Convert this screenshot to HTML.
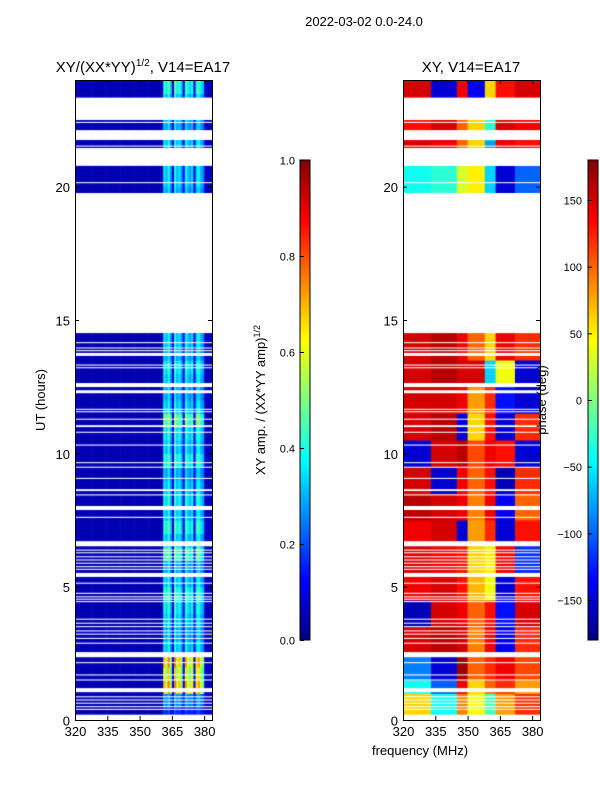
<!DOCTYPE html>
<html><head><meta charset="utf-8">
<style>
body{margin:0;background:#fff;}
#wrap{position:relative;width:600px;height:800px;overflow:hidden;background:#fff;font-family:"Liberation Sans",sans-serif;}
canvas{position:absolute;}
svg{position:absolute;left:0;top:0;}
</style></head><body>
<div id="wrap">
<canvas id="ampc" width="137" height="640" style="left:75px;top:80px"></canvas>
<canvas id="phc" width="137" height="640" style="left:403px;top:80px"></canvas>
<svg id="ov" width="600" height="800">
<defs>
<linearGradient id="jet" x1="0" y1="1" x2="0" y2="0">
<stop offset="0" stop-color="#000080"/><stop offset="0.125" stop-color="#0000ff"/>
<stop offset="0.375" stop-color="#00ffff"/><stop offset="0.625" stop-color="#ffff00"/>
<stop offset="0.875" stop-color="#ff0000"/><stop offset="1" stop-color="#800000"/>
</linearGradient>
</defs>
<text x="364" y="26" font-size="13" text-anchor="middle">2022-03-02 0.0-24.0</text>
<text x="143" y="72" font-size="15" text-anchor="middle">XY/(XX*YY)<tspan font-size="10" dy="-6">1/2</tspan><tspan dy="6">, V14=EA17</tspan></text>
<text x="471" y="72" font-size="15" text-anchor="middle">XY, V14=EA17</text>
<text transform="translate(45,400) rotate(-90)" font-size="13" text-anchor="middle">UT (hours)</text>
<text transform="translate(265,400) rotate(-90)" font-size="13" text-anchor="middle">XY amp. / (XX*YY amp)<tspan font-size="9" dy="-5">1/2</tspan></text>
<text transform="translate(546,400) rotate(-90)" font-size="13" text-anchor="middle">phase (deg)</text>
<text x="420" y="755" font-size="13" text-anchor="middle">frequency (MHz)</text>
<rect x="300" y="160" width="10" height="480" fill="url(#jet)" stroke="#000" stroke-width="1"/>
<rect x="588" y="160" width="10" height="480" fill="url(#jet)" stroke="#000" stroke-width="1"/>
<g id="axes"></g>
</svg>
</div>
<script>
// ---- data ----
const freqStart = 320;
const ampChannels = [ // 1 MHz channels 320..383
0.05,0.05,0.05,0.05,0.05,0.05,0.05,0.05,0.05,0.05,0.05,0.05,0.05,0.05,0.05,0.05,
0.05,0.05,0.05,0.05,0.05,0.05,0.05,0.05,0.05,0.05,0.05,0.05,0.05,0.05,0.05,0.05,
0.05,0.05,0.05,0.05,0.05,0.05,0.05,0.05,0.05,0.36,0.30,0.40,0.28,0.10,0.40,0.30,
0.36,0.28,0.12,0.38,0.32,0.28,0.34,0.12,0.34,0.38,0.30,0.26,0.07,0.06,0.06,0.06];
const ampBlockScale = [ // 0.5 h bins, 0..24 h
0.5,0.8,1.9,1.7,1.9,1.0,0.9,1.0,1.1,1.2,1.0,0.9,1.3,1.0,1.2,1.0,1.1,1.0,0.9,1.2,1.0,1.1,1.4,1.0,
0.9,1.0,1.1,0.9,1.0,1.0,1.0,1.0,1.0,1.0,1.0,1.0,1.0,1.0,1.0,0.9,1.0,1.0,0.9,1.0,0.9,1.0,1.0,1.2];
const phaseSegEdges = [320,333,345,350,358,363,372,384];
const phaseBlocks = [ // [startHour, endHour, phases per segment]
[0.2,1.0,[60,-40,90,40,-20,80,120]],
[1.0,1.5,[-40,-100,140,60,100,120,80]],
[1.5,2.45,[-90,-150,170,100,120,140,110]],
[2.45,3.5,[150,160,150,90,140,-140,120]],
[3.5,4.5,[-160,150,140,100,130,-130,150]],
[4.5,5.5,[140,150,130,70,40,-150,130]],
[5.5,6.6,[150,140,130,60,50,140,-120]],
[6.6,7.5,[140,150,-150,80,120,-150,130]],
[7.5,8.5,[160,150,140,90,140,-140,100]],
[8.5,9.5,[150,-150,140,100,130,-160,120]],
[9.5,10.5,[-150,150,160,110,140,130,-150]],
[10.5,11.5,[150,160,-150,60,130,-150,120]],
[11.5,12.5,[150,150,140,80,120,-130,-150]],
[12.5,13.5,[150,160,150,150,-60,40,-150]],
[13.5,14.51,[150,160,140,100,60,140,120]],
[19.76,20.78,[-40,-30,30,50,-60,-150,-100]],
[21.45,21.75,[150,140,100,60,-80,140,130]],
[21.75,22.5,[130,150,100,60,-30,150,140]],
[23.34,24,[150,-150,140,-140,60,130,150]]];
const gaps = [[0,0.2],[14.51,19.76],[20.78,21.45],[21.75,22.12],[22.5,23.34]];
const thinGaps = [20.15,21.52,22.41,14.15,13.95,13.85,13.71,13.31,13.21,12.56,12.31,11.65,11.56,11.28,11.02,10.79,10.31,9.65,9.48,9.06,8.62,8.44,7.95,7.6,6.61,6.37,6.27,6.12,6.0,5.88,5.75,5.65,5.44,5.13,4.75,4.62,4.53,4.44,3.78,3.63,3.5,3.34,3.22,3.06,2.88,2.45,2.15,1.69,1.5,1.12,0.87,0.75,0.63,0.5,0.4];
const thickW = {13.71:0.11,12.56:0.15,12.31:0.11,11.02:0.07,8.62:0.07,7.95:0.15,6.61:0.19,5.44:0.15,2.45:0.19,1.12:0.15};
const xTicks = [320,335,350,365,380];
const yTicks = [0,5,10,15,20];
const ampTicks = [0.0,0.2,0.4,0.6,0.8,1.0];
const phaseTicks = [-150,-100,-50,0,50,100,150];

// ---- scales ----
const pxPerMHz = 2.153, pxPerHour = 640/24;
function xLocal(f){return (f-freqStart)*pxPerMHz;}
function yLocal(h){return 640-h*pxPerHour;}
function jet(v){v=Math.max(0,Math.min(1,v));const c=t=>Math.round(255*Math.max(0,Math.min(1,1.5-Math.abs(4*v-t))));return `rgb(${c(3)},${c(2)},${c(1)})`;}

// ---- amplitude heatmap ----
const ac=document.getElementById('ampc').getContext('2d');
for(let b=0;b<ampBlockScale.length;b++){
  const h0=b*0.5,h1=h0+0.5;
  for(let c=0;c<ampChannels.length;c++){
    const base=ampChannels[c];
    const v= base>0.2 ? base*ampBlockScale[b] : base;
    ac.fillStyle=jet(v);
    ac.fillRect(xLocal(freqStart+c),yLocal(h1),pxPerMHz+0.6,0.5*pxPerHour+0.6);
  }
}
// ---- phase heatmap ----
const pc=document.getElementById('phc').getContext('2d');
phaseBlocks.forEach(bl=>{
  for(let s=0;s<bl[2].length;s++){
    pc.fillStyle=jet((bl[2][s]+180)/360);
    pc.fillRect(xLocal(phaseSegEdges[s]),yLocal(bl[1]),xLocal(phaseSegEdges[s+1])-xLocal(phaseSegEdges[s])+0.5,(bl[1]-bl[0])*pxPerHour+0.5);
  }
});
// ---- gaps ----
[ac,pc].forEach(ctx=>{
  ctx.fillStyle='#fff';
  gaps.forEach(g=>ctx.fillRect(0,yLocal(g[1]),137,(g[1]-g[0])*pxPerHour));
  thinGaps.forEach(h=>{const w=thickW[h]||0.04;ctx.fillRect(0,yLocal(h+w/2),137,Math.max(1,w*pxPerHour));});
});

// ---- axes ----
const NS='http://www.w3.org/2000/svg', ax=document.getElementById('axes');
function mk(tag,attrs,txt){const e=document.createElementNS(NS,tag);for(const k in attrs)e.setAttribute(k,attrs[k]);if(txt!==undefined)e.textContent=txt;ax.appendChild(e);return e;}
[75,403].forEach((x0,pi)=>{
  const fr=mk('rect',{x:x0+0.5,y:80.5,width:137,height:640,fill:'none',stroke:'#000','stroke-width':1});
  
  
  xTicks.forEach(f=>{
    const x=x0+xLocal(f)+0.5;
    mk('line',{x1:x,x2:x,y1:720,y2:716,stroke:'#000'});
    mk('line',{x1:x,x2:x,y1:80,y2:84,stroke:'#000'});
    const t=mk('text',{x:x,y:736,'font-size':13,'text-anchor':'middle'},String(f));
    
    
  });
  yTicks.forEach(h=>{
    const y=80+yLocal(h)+0.5;
    mk('line',{x1:x0,x2:x0+4,y1:y,y2:y,stroke:'#000'});
    mk('line',{x1:x0+137,x2:x0+133,y1:y,y2:y,stroke:'#000'});
    const t=mk('text',{x:x0-5,y:y+5,'font-size':13,'text-anchor':'end'},String(h));
    
    
  });
});
ampTicks.forEach(v=>{
  const y=640-v*480+0.5;
  mk('line',{x1:300,x2:304,y1:y,y2:y,stroke:'#000'});
  const t=mk('text',{x:295,y:y+4,'font-size':11,'text-anchor':'end'},v.toFixed(1));
  
  
});
phaseTicks.forEach(v=>{
  const y=400-v*(480/360)+0.5;
  mk('line',{x1:588,x2:592,y1:y,y2:y,stroke:'#000'});
  const t=mk('text',{x:582,y:y+4,'font-size':11,'text-anchor':'end'},v<0?'\u2212'+(-v):String(v));
  
  
});
</script>
</body></html>
